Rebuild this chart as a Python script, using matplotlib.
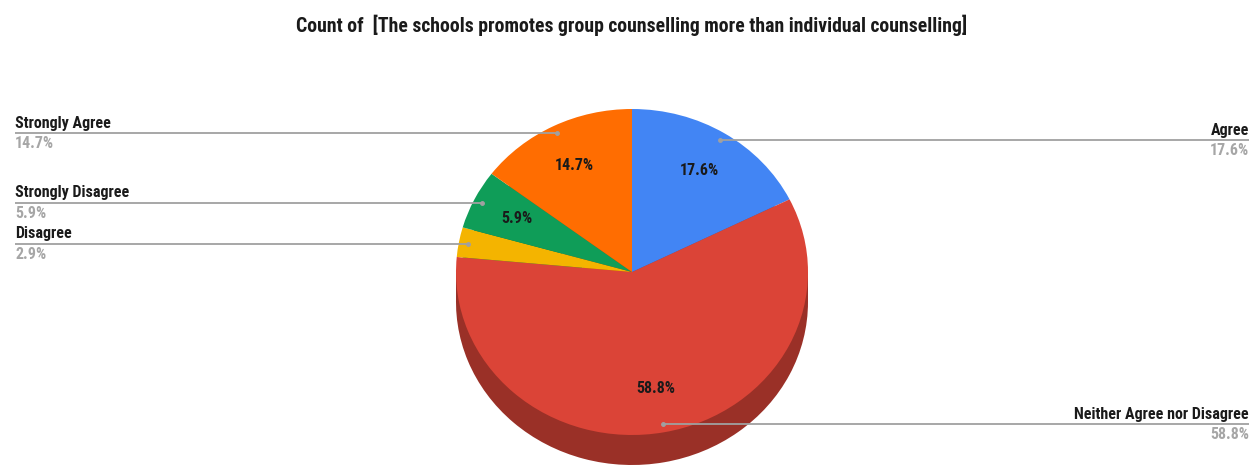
import matplotlib
matplotlib.use("Agg")
import numpy as np
import matplotlib.pyplot as plt
from matplotlib import font_manager as fm
from matplotlib.patches import Rectangle

categories = ["Agree", "Neither Agree nor Disagree", "Disagree",
              "Strongly Disagree", "Strongly Agree"]
counts = [6, 20, 1, 2, 5]
colors = ["#4285F4", "#DB4437", "#F4B400", "#0F9D58", "#FF6D01"]
side_colors = ["#2d5fb3", "#9a3027", "#a87c00", "#0a6b3c", "#b34c00"]
title = "Count of  [The schools promotes group counselling more than individual counselling]"

names = {f.name for f in fm.fontManager.ttflist}
FONT = "Roboto Condensed" if "Roboto Condensed" in names else "DejaVu Sans"
plt.rcParams["font.family"] = [FONT, "DejaVu Sans"]

W, H = 1251, 466
fig = plt.figure(figsize=(W / 100, H / 100), dpi=100)
ax = fig.add_axes([0, 0, 1, 1])

# pie geometry in pixels (top face ellipse and extrusion depth)
CX, CY = 632, 272
RX, RY = 176, 163
DEPTH = 30
d = DEPTH / RY

# extruded side of the pie
ax.pie(counts, colors=side_colors, startangle=90, counterclock=False,
       center=(0, -d), radius=1, wedgeprops=dict(linewidth=0, zorder=1))
ax.add_patch(Rectangle((-1, -d), 2, d, facecolor=side_colors[1], lw=0, zorder=1))

# top face
wedges, _, autotexts = ax.pie(
    counts, colors=colors, startangle=90, counterclock=False, radius=1,
    autopct=lambda p: f"{p:.1f}%" if p > 4 else "", pctdistance=0.73,
    wedgeprops=dict(linewidth=0, zorder=2),
    textprops=dict(fontsize=11.5, fontweight="bold", color="#1a1a1a"))

ax.set_aspect("auto")
ax.set_xlim(-CX / RX, (W - CX) / RX)
ax.set_ylim((CY - H) / RY, CY / RY)
ax.axis("off")

# leader lines and outside labels
total = sum(counts)
x_left = (15 - CX) / RX
x_right = (1249 - CX) / RX
for w, name, c in zip(wedges, categories, counts):
    mid = np.deg2rad((w.theta1 + w.theta2) / 2)
    ax_x, ax_y = 0.95 * np.cos(mid), 0.95 * np.sin(mid)
    left = np.cos(mid) < 0
    xe = x_left if left else x_right
    ax.plot([xe, ax_x], [ax_y, ax_y], color="#a0a0a0", lw=1.3, zorder=4,
            solid_capstyle="butt")
    ax.plot([ax_x], [ax_y], "o", ms=2.5, color="#a0a0a0", zorder=4)
    ha = "left" if left else "right"
    ax.text(xe, ax_y + 2.5 / RY, name, ha=ha, va="bottom", fontsize=11.5,
            fontweight="bold", color="#1a1a1a", zorder=5)
    ax.text(xe, ax_y - 3 / RY, f"{c / total * 100:.1f}%", ha=ha, va="top",
            fontsize=11.5, fontweight="bold", color="#a6a6a6", zorder=5)

fig.text(CX / W, 1 - 25 / H, title, ha="center", va="center",
         fontsize=14.2, fontweight="bold", color="#1a1a1a")

fig.savefig("out.png", dpi=100, facecolor="white")
